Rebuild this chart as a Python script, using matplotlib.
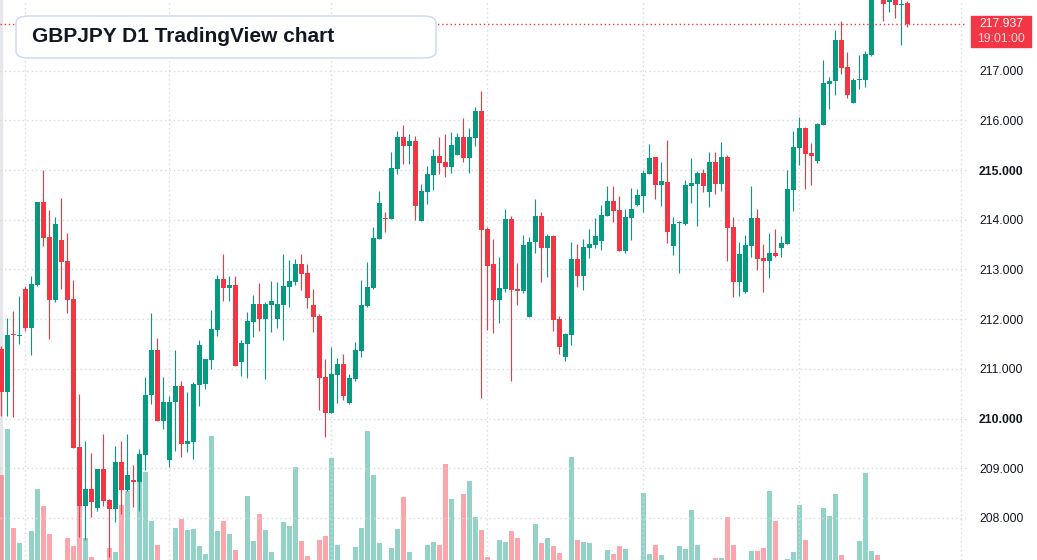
import matplotlib.pyplot as plt
from matplotlib.patches import FancyBboxPatch, Rectangle
import numpy as np

# daily candles, oldest first
opens = [211.39, 210.53, 211.69, 211.66, 212.60, 211.82, 212.68, 214.35, 213.65, 212.38,
         213.59, 213.17, 212.40, 209.42, 208.23, 208.59, 208.19, 208.99, 208.37, 208.17,
         209.13, 208.56, 208.77, 208.72, 209.27, 210.47, 211.37, 209.95, 209.16, 210.33,
         210.65, 209.48, 209.52, 210.67, 210.69, 211.17, 211.79, 212.80, 212.62, 212.68,
         211.13, 211.49, 211.94, 212.30, 212.00, 212.28, 212.00, 212.28, 212.64, 212.74,
         213.10, 212.92, 212.28, 212.06, 210.83, 210.12, 210.87, 211.09, 210.32, 210.79,
         211.35, 212.26, 212.62, 213.61, 214.03, 214.01, 215.02, 215.67, 215.48, 215.58,
         213.97, 214.56, 214.90, 215.28, 215.16, 215.06, 215.30, 215.67, 215.24, 215.65,
         216.19, 213.81, 213.10, 212.38, 212.60, 214.01, 212.60, 212.56, 212.04, 213.55,
         214.07, 213.43, 213.67, 212.00, 211.23, 211.69, 213.21, 212.86, 213.43, 213.49,
         213.57, 214.07, 214.38, 214.19, 213.37, 214.03, 214.29, 214.48, 214.92, 215.26,
         214.70, 214.76, 213.47, 213.93, 213.91, 214.68, 214.72, 214.94, 214.56, 215.16,
         214.72, 215.26, 213.85, 212.74, 212.54, 213.47, 214.04, 213.23, 213.17, 213.34,
         213.43, 213.51, 214.60, 215.45, 215.85, 215.35, 215.18, 215.91, 216.74, 216.79,
         217.62, 217.07, 216.35, 216.81, 216.81, 217.32, 218.70, 218.50, 218.38, 218.45,
         218.31, 218.37]
highs = [211.45, 212.02, 212.16, 212.46, 212.67, 212.86, 214.36, 214.99, 214.19, 214.05,
         214.44, 213.73, 212.78, 210.50, 209.54, 209.31, 208.99, 209.68, 208.39, 209.44,
         209.54, 209.68, 209.07, 209.38, 210.83, 212.12, 211.61, 210.83, 210.46, 211.37,
         210.75, 210.54, 210.73, 211.57, 211.19, 212.18, 212.88, 213.31, 212.86, 212.86,
         211.57, 212.14, 212.48, 212.72, 212.34, 212.76, 212.74, 213.31, 213.19, 213.21,
         213.31, 213.10, 212.60, 212.10, 211.19, 211.43, 211.21, 211.29, 210.89, 211.53,
         212.78, 213.15, 213.85, 214.58, 214.15, 215.36, 215.79, 215.91, 215.73, 215.69,
         214.72, 215.08, 215.42, 215.67, 215.73, 215.77, 215.75, 216.05, 215.85, 216.27,
         216.59, 213.85, 213.61, 213.25, 214.21, 214.07, 213.13, 213.69, 213.65, 214.42,
         214.15, 213.71, 213.69, 212.06, 211.73, 213.55, 213.51, 213.61, 213.81, 214.03,
         214.29, 214.68, 214.68, 214.48, 214.21, 214.64, 214.62, 215.00, 215.52, 215.26,
         215.16, 215.60, 214.05, 213.97, 214.80, 215.24, 214.98, 215.02, 215.36, 215.36,
         215.56, 215.30, 214.05, 213.55, 213.69, 214.68, 214.22, 213.51, 213.73, 213.81,
         213.67, 215.01, 215.78, 216.07, 215.87, 215.55, 215.95, 217.22, 216.87, 217.82,
         218.00, 217.38, 216.86, 217.32, 217.40, 218.60, 218.85, 218.60, 218.50, 218.52,
         218.45, 218.41]
lows = [210.05, 210.06, 210.04, 211.50, 211.77, 211.27, 212.66, 213.47, 211.59, 212.35,
        212.60, 212.12, 209.40, 207.62, 207.55, 208.02, 208.13, 208.23, 207.22, 207.91,
        208.07, 208.54, 208.21, 208.13, 208.97, 210.30, 209.95, 209.78, 209.02, 209.34,
        209.22, 209.32, 209.18, 210.25, 210.60, 210.99, 211.67, 212.36, 212.36, 211.05,
        210.85, 210.81, 211.63, 211.77, 210.79, 211.75, 211.83, 211.57, 212.24, 212.68,
        212.58, 212.22, 211.75, 210.18, 209.62, 210.12, 210.32, 210.38, 210.30, 210.75,
        211.23, 212.24, 212.60, 213.61, 213.75, 214.01, 214.92, 215.12, 215.12, 213.99,
        213.97, 214.31, 214.60, 214.92, 214.86, 214.94, 215.30, 215.16, 214.94, 215.48,
        210.42, 211.79, 211.73, 211.92, 212.54, 210.75, 212.28, 212.52, 212.04, 213.33,
        212.74, 212.84, 211.77, 211.29, 211.15, 211.47, 212.64, 212.58, 213.23, 213.43,
        213.39, 214.07, 213.95, 213.37, 213.33, 213.59, 214.27, 214.15, 214.92, 214.42,
        214.27, 213.53, 213.29, 212.92, 213.89, 214.33, 213.87, 214.56, 214.25, 214.52,
        214.58, 213.17, 212.44, 212.46, 212.52, 213.25, 212.99, 212.54, 212.83, 213.24,
        213.25, 213.51, 214.17, 215.10, 214.62, 214.70, 215.14, 215.91, 216.23, 216.51,
        216.94, 216.45, 216.35, 216.63, 216.68, 217.30, 218.45, 218.00, 218.17, 218.05,
        217.52, 217.87]
closes = [210.53, 211.69, 211.68, 211.67, 211.82, 212.70, 214.35, 213.63, 212.38, 213.91,
          213.15, 212.38, 209.40, 208.23, 208.59, 208.31, 208.99, 208.35, 208.17, 209.13,
          208.56, 208.87, 208.72, 209.29, 210.48, 211.37, 209.95, 210.34, 210.34, 210.65,
          209.48, 209.54, 210.69, 211.47, 211.19, 211.81, 212.80, 212.62, 212.68, 211.05,
          211.51, 211.96, 212.30, 212.00, 212.30, 212.36, 212.30, 212.66, 212.76, 213.10,
          212.90, 212.42, 212.04, 210.81, 210.12, 210.89, 211.09, 210.46, 210.81, 211.37,
          212.28, 212.64, 213.63, 214.33, 214.02, 215.04, 215.67, 215.48, 215.58, 214.27,
          214.58, 214.92, 215.28, 215.14, 215.06, 215.50, 215.67, 215.24, 215.67, 216.19,
          213.79, 213.06, 212.38, 212.62, 214.01, 212.58, 212.56, 213.49, 213.55, 214.07,
          213.43, 213.67, 211.98, 211.43, 211.71, 213.21, 212.86, 213.45, 213.51, 213.67,
          214.09, 214.38, 214.17, 213.37, 214.05, 214.21, 214.50, 214.94, 215.24, 214.70,
          214.78, 213.75, 213.91, 213.95, 214.70, 214.74, 214.94, 214.68, 215.16, 214.72,
          215.26, 213.83, 212.74, 213.31, 213.49, 214.04, 213.21, 213.17, 213.34, 213.26,
          213.53, 214.62, 215.46, 215.85, 215.32, 215.28, 215.93, 216.76, 216.79, 217.62,
          217.06, 216.51, 216.81, 216.84, 217.34, 218.50, 218.52, 218.35, 218.45, 218.31,
          218.35, 217.937]
volumes = [90, 136, 37, 22, 3, 34, 76, 59, 31, 3,
           3, 27, 19, 59, 27, 8, 3, 3, 17, 13,
           60, 74, 3, 83, 93, 44, 20, 3, 3, 37,
           46, 35, 36, 19, 11, 129, 34, 44, 31, 15,
           3, 69, 24, 51, 35, 13, 3, 43, 39, 98,
           24, 9, 3, 25, 29, 107, 20, 3, 3, 18,
           37, 134, 90, 22, 3, 17, 36, 68, 13, 3,
           3, 20, 23, 20, 101, 66, 3, 71, 84, 48,
           35, 8, 3, 25, 23, 34, 27, 3, 3, 41,
           22, 27, 19, 12, 3, 108, 25, 23, 22, 3,
           3, 15, 11, 19, 16, 3, 3, 72, 11, 20,
           10, 3, 3, 19, 16, 55, 20, 3, 3, 7,
           7, 48, 20, 3, 3, 14, 14, 17, 74, 44,
           3, 6, 13, 60, 25, 3, 3, 57, 49, 71,
           10, 3, 3, 24, 92, 14, 10, 3, 3, 3,
           3, 3]

price_ticks = [208, 209, 210, 211, 212, 213, 214, 215, 216, 217]
bold_ticks = [210, 215]
month_starts = [4, 28, 55, 81, 107, 133, 160]
last_price = 217.937
last_time = "19:01:00"
title = "GBPJPY D1 TradingView chart"

UP = '#089981'
DOWN = '#f23645'
GRID = '#d6d9de'
TEXT = '#131722'
plt.rcParams['font.family'] = ['Liberation Sans', 'DejaVu Sans']

W, H = 1037, 560
fig = plt.figure(figsize=(W / 100, H / 100), dpi=100)
fig.patch.set_facecolor('white')
ax = fig.add_axes([0, 0, 967 / W, 1])
axv = ax.twinx()

x = np.arange(len(opens))
o = np.array(opens)
h = np.array(highs)
l = np.array(lows)
c = np.array(closes)
up = c >= o
colors = np.where(up, UP, DOWN)

# volume in the background
axv.bar(x, volumes, width=0.8, color=colors, alpha=0.44, linewidth=0)
axv.set_ylim(5, 565)
axv.axis('off')
ax.set_zorder(2)
axv.set_zorder(1)
ax.patch.set_visible(False)

# grid
for p in price_ticks:
    ax.axhline(p, color=GRID, lw=1, ls=(0, (1, 2.2)), zorder=0)
for m in month_starts:
    ax.axvline(m, color=GRID, lw=1, ls=(0, (1, 2.2)), zorder=0)

# candles
ax.vlines(x, l, h, colors=colors, linewidth=0.8, zorder=3)
ax.bar(x, np.maximum(np.abs(c - o), 0.02), bottom=np.minimum(o, c), width=0.78,
       color=colors, linewidth=0, zorder=4)

ax.axhline(last_price, color=DOWN, lw=1, ls=(0, (1, 2)), zorder=5)

ax.set_xlim(-0.22, 160.95)
ax.set_ylim(210 - 141.5 / 49.7, 210 + 418.5 / 49.7)
axv.set_xlim(-0.22, 160.95)

ax.yaxis.tick_right()
ax.set_yticks(price_ticks)
ax.set_yticklabels(['%.3f' % p for p in price_ticks])
ax.tick_params(axis='y', length=0, pad=8.6, labelsize=8.8, labelcolor=TEXT)
for lab, p in zip(ax.get_yticklabels(), price_ticks):
    if p in bold_ticks:
        lab.set_fontweight('bold')
ax.set_xticks([])
for s in ax.spines.values():
    s.set_visible(False)

# left border strip
fig.patches.append(Rectangle((0, 0), 2 / W, 1, transform=fig.transFigure,
                             color='#e6e7ea', zorder=0))

# last price label
fig.patches.append(Rectangle((971 / W, 1 - 47 / H), 60 / W, 31 / H,
                             transform=fig.transFigure, color=DOWN, zorder=5))
fig.text(1001 / W, 1 - 24 / H, '%.3f' % last_price, color='white', fontsize=8.8,
         ha='center', va='center', zorder=6)
fig.text(1001 / W, 1 - 39 / H, last_time, color='#ffd6d9', fontsize=8.8,
         ha='center', va='center', zorder=6)

# title box
fig.patches.append(FancyBboxPatch((16 / W, 1 - 58 / H), 420 / W, 42 / H,
                                  boxstyle='round,pad=0,rounding_size=0.012',
                                  transform=fig.transFigure, facecolor='white',
                                  edgecolor='#cad8ee', linewidth=1, zorder=5))
fig.text(32 / W, 1 - 37 / H, title, color=TEXT, fontsize=15, fontweight='bold',
         ha='left', va='center', zorder=6)

fig.savefig('out.png', dpi=100)
